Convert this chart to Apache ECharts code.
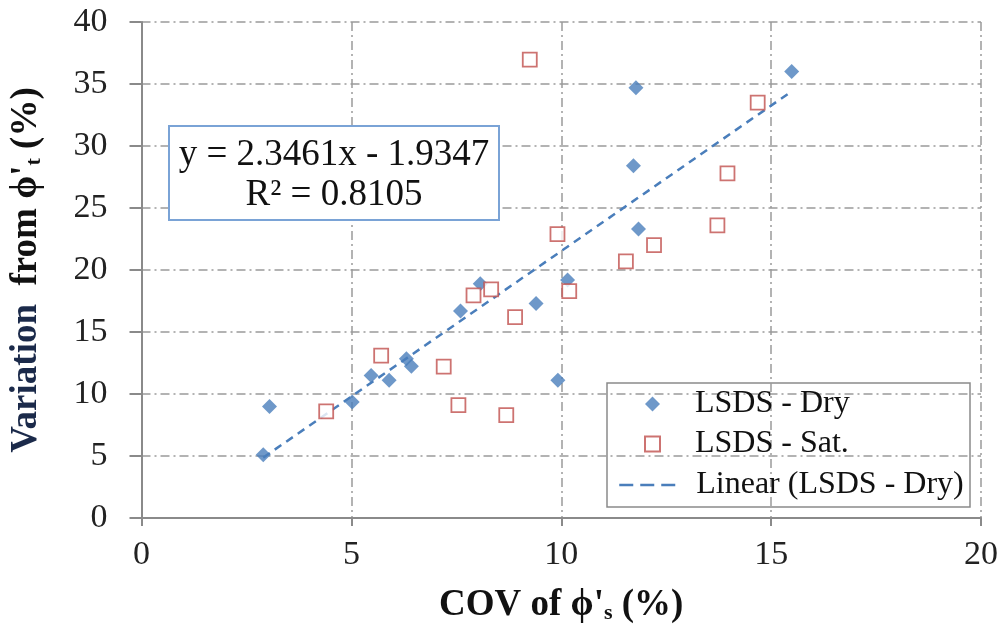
<!DOCTYPE html>
<html>
<head>
<meta charset="utf-8">
<script src="https://cdn.jsdelivr.net/npm/echarts@6/dist/echarts.min.js"></script>
<style>
html,body{margin:0;padding:0;background:#fff;}
#chart{width:1002px;height:634px;}
</style>
</head>
<body>
<div id="chart"></div>
<script>
// Data
const dryX = [2.9, 3.05, 5.02, 5.47, 5.9, 6.31, 6.43, 7.6, 8.07, 9.4, 9.92, 10.15, 11.72, 11.84, 11.78, 15.49];
const dryY = [5.1, 9.0, 9.35, 11.5, 11.1, 12.85, 12.23, 16.7, 18.9, 17.3, 11.1, 19.2, 28.4, 23.3, 34.7, 36.0];
const satX = [9.25, 9.91, 7.91, 8.33, 8.9, 5.71, 4.4, 7.2, 7.55, 8.69, 10.19, 14.68, 13.96, 13.72, 12.21, 11.54];
const satY = [36.97, 22.9, 17.96, 18.44, 16.2, 13.1, 8.6, 12.2, 9.1, 8.3, 18.3, 33.5, 27.8, 23.6, 22.0, 20.7];
const trendX = [2.9, 15.49];
const trendY = [4.87, 34.41];
const xTicks = [0, 5, 10, 15, 20];
const yTicks = [0, 5, 10, 15, 20, 25, 30, 35, 40];
const seriesNames = ['LSDS - Dry', 'LSDS - Sat.', 'Linear (LSDS - Dry)'];
const equationText = 'y = 2.3461x - 1.9347';
const r2Text = 'R² = 0.8105';

const FONT = '"Liberation Serif", "DejaVu Serif", serif';
const zip = (xs, ys) => xs.map((x, i) => [x, ys[i]]);
const gridLine = {show: true, lineStyle: {color: '#9a9a9a', width: 1.5, type: [9, 4, 2, 4]}};
const legendText = {fontFamily: FONT, fontSize: 32, color: '#111', lineHeight: 34};

const chart = echarts.init(document.getElementById('chart'), null, {renderer: 'canvas'});
chart.setOption({
  animation: false,
  backgroundColor: '#fff',
  grid: {left: 141, right: 21, top: 22, bottom: 116, containLabel: false},
  xAxis: {
    type: 'value', min: xTicks[0], max: xTicks[xTicks.length - 1], interval: 5,
    name: '{b|COV of ϕ\'}{sub|s}{b| (%)}', nameLocation: 'middle', nameGap: 68,
    nameTextStyle: {
      rich: {
        b: {fontFamily: FONT, fontSize: 37, fontWeight: 'bold', color: '#111'},
        sub: {fontFamily: FONT, fontSize: 22, fontWeight: 'bold', color: '#111', padding: [16, 0, 0, 0]}
      }
    },
    axisLine: {show: true, onZero: false, lineStyle: {color: '#8a8a8a', width: 2}},
    axisTick: {show: true, inside: false, length: 8, lineStyle: {color: '#8a8a8a', width: 2}},
    axisLabel: {fontFamily: FONT, fontSize: 34, color: '#222', margin: 20},
    splitLine: gridLine
  },
  yAxis: {
    type: 'value', min: yTicks[0], max: yTicks[yTicks.length - 1], interval: 5,
    name: '{v|Variation}{b|  from ϕ\'}{sub|t}{b| (%)}', nameLocation: 'middle', nameGap: 96, nameRotate: 90,
    nameTextStyle: {
      rich: {
        v: {fontFamily: FONT, fontSize: 37, fontWeight: 'bold', color: '#1b2a4a'},
        b: {fontFamily: FONT, fontSize: 37, fontWeight: 'bold', color: '#111'},
        sub: {fontFamily: FONT, fontSize: 22, fontWeight: 'bold', color: '#111', padding: [16, 0, 0, 0]}
      }
    },
    axisLine: {show: true, onZero: false, lineStyle: {color: '#8a8a8a', width: 2}},
    axisTick: {show: true, inside: false, length: 12, lineStyle: {color: '#8a8a8a', width: 2}},
    axisLabel: {fontFamily: FONT, fontSize: 34, color: '#222', margin: 34},
    splitLine: gridLine
  },
  legend: [
    {
      orient: 'vertical', left: 644, top: 387, padding: 0, itemGap: 6,
      itemWidth: 15, itemHeight: 15,
      textStyle: Object.assign({padding: [0, 0, 0, 30]}, legendText),
      data: [
        {name: seriesNames[0], icon: 'diamond'},
        {name: seriesNames[1], icon: 'rect'}
      ]
    },
    {
      orient: 'vertical', left: 618, top: 468, padding: 0,
      itemWidth: 57, itemHeight: 14,
      lineStyle: {type: [14, 7], width: 2.5},
      itemStyle: {opacity: 0, borderWidth: 0},
      textStyle: Object.assign({padding: [0, 0, 0, 15]}, legendText),
      data: [{name: seriesNames[2]}]
    }
  ],
  graphic: [
    {type: 'rect', z: 0, shape: {x: 607, y: 383, width: 363, height: 124},
     style: {fill: '#fff', stroke: '#8a8a8a', lineWidth: 1.5}},
    {type: 'rect', z: 10, shape: {x: 169, y: 126, width: 330, height: 94},
     style: {fill: '#fff', stroke: '#7aa3d6', lineWidth: 2}},
    {type: 'text', z: 11,
     style: {text: equationText, font: '37px ' + FONT, fill: '#111', textAlign: 'center', textVerticalAlign: 'middle', x: 334, y: 155}},
    {type: 'text', z: 11,
     style: {text: r2Text, font: '37px ' + FONT, fill: '#111', textAlign: 'center', textVerticalAlign: 'middle', x: 334, y: 195}}
  ],
  series: [
    {
      name: seriesNames[0], type: 'scatter', data: zip(dryX, dryY),
      symbol: 'diamond', symbolSize: 15,
      itemStyle: {color: '#4a7ebb'}, z: 3
    },
    {
      name: seriesNames[1], type: 'scatter', data: zip(satX, satY),
      symbol: 'rect', symbolSize: 14,
      itemStyle: {color: '#fff', borderColor: '#c0504d', borderWidth: 1.8}, z: 3
    },
    {
      name: seriesNames[2], type: 'line', data: zip(trendX, trendY),
      symbol: 'none', showSymbol: false,
      lineStyle: {color: '#4a7ebb', width: 2.5, type: [8, 6]},
      itemStyle: {color: '#4a7ebb'}, z: 2
    }
  ]
});
</script>
</body>
</html>
